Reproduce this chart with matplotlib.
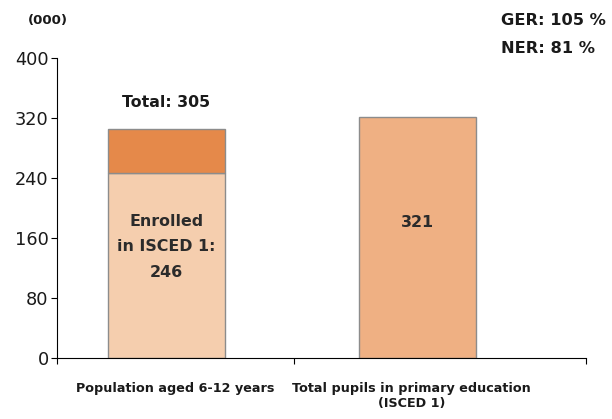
import matplotlib
matplotlib.use("Agg")
import matplotlib.pyplot as plt
from matplotlib.transforms import blended_transform_factory

# data (thousands)
categories = ["Population aged 6-12 years", "Total pupils in primary education\n(ISCED 1)"]
enrolled = [246, 0]
out_of_school = [59, 0]
pupils = [0, 321]
total_pop = 305
ger = 105
ner = 81

c_light = "#F5CEAE"
c_dark = "#E5894A"
c_mid = "#EFB083"
edge = "#8C8C8C"
txt = "#1a1a1a"

fig = plt.figure(figsize=(6.12, 4.19), dpi=100)
ax = fig.add_axes([0.0931, 0.1456, 0.8644, 0.716])

x = [0, 1]
w = 0.466
ax.bar(x[0], enrolled[0], width=w, color=c_light, edgecolor=edge, linewidth=1)
ax.bar(x[0], out_of_school[0], bottom=enrolled[0], width=w, color=c_dark, edgecolor=edge, linewidth=1)
ax.bar(x[1], pupils[1], width=w, color=c_mid, edgecolor=edge, linewidth=1)

ax.set_ylim(0, 400)
ax.set_xlim(-0.436, 1.671)
ax.set_yticks([0, 80, 160, 240, 320, 400])
ax.set_xticks([-0.436, 0.508, 1.671])
ax.set_xticklabels([])
ax.tick_params(axis="y", labelsize=12.8, length=4, width=0.8, pad=2, labelcolor=txt)
ax.tick_params(axis="x", length=4, width=0.8, direction="out")
for s in ["top", "right"]:
    ax.spines[s].set_visible(False)
for s in ["left", "bottom"]:
    ax.spines[s].set_linewidth(0.8)

# category labels
tr = blended_transform_factory(ax.transData, ax.transAxes)
ax.text(0.034, -0.08, categories[0], transform=tr, ha="center", va="top",
        fontsize=9.2, fontweight="bold", color=txt)
ax.text(0.976, -0.08, categories[1], transform=tr, ha="center", va="top",
        fontsize=9.2, fontweight="bold", color=txt, linespacing=1.2)

# bar annotations
ax.text(x[0], 341, f"Total: {total_pop}", ha="center", va="center",
        fontsize=11.4, fontweight="bold", color=txt)
ax.text(x[0], 148, f"Enrolled\nin ISCED 1:\n{enrolled[0]}", ha="center", va="center",
        fontsize=11.4, fontweight="bold", color="#2b2b2b", linespacing=1.85)
ax.text(x[1], 181, f"{pupils[1]}", ha="center", va="center",
        fontsize=11.4, fontweight="bold", color="#2b2b2b")

fig.text(0.045, 0.952, "(000)", ha="left", va="center", fontsize=9.5, fontweight="bold", color=txt)
fig.text(0.818, 0.95, f"GER: {ger} %", ha="left", va="center", fontsize=11.7, fontweight="bold", color=txt)
fig.text(0.818, 0.885, f"NER: {ner} %", ha="left", va="center", fontsize=11.7, fontweight="bold", color=txt)

fig.savefig("out.png", dpi=100)
